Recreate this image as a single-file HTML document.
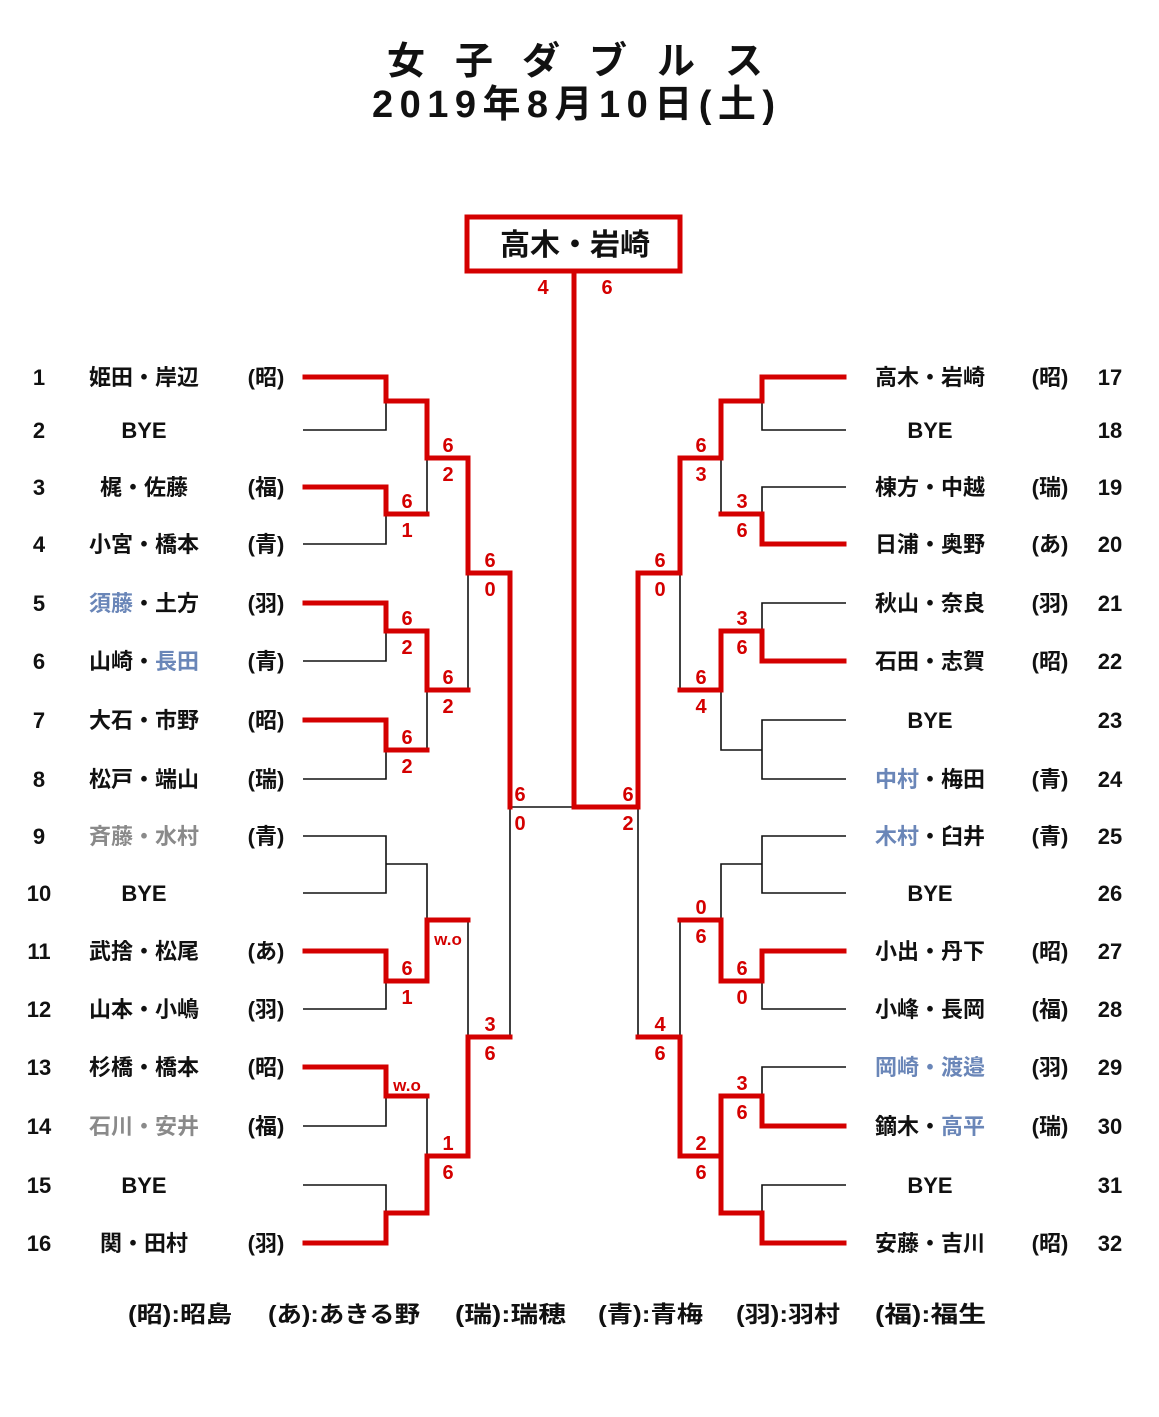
<!DOCTYPE html>
<html><head><meta charset="utf-8"><style>
html,body{margin:0;padding:0;background:#fff;}
svg{display:block;}
text{font-family:"Liberation Sans","Noto Sans CJK JP",sans-serif;font-weight:bold;}
.n{font-size:22px;fill:#111;}
.s{font-size:20px;fill:#d40000;text-anchor:middle;}
.k{stroke:#111;stroke-width:1.6;fill:none;}
.r{stroke:#d40000;stroke-width:5;fill:none;stroke-linejoin:miter;stroke-linecap:square;}
.b{fill:#6a86b8;}
.g{fill:#8a8a8a;}
.t{font-size:38px;fill:#111;text-anchor:middle;}
</style></head><body>
<svg width="1159" height="1417" viewBox="0 0 1159 1417" xmlns="http://www.w3.org/2000/svg">
<text class="t" x="406" y="74">女</text><text class="t" x="474" y="74">子</text><text class="t" x="541" y="74">ダ</text>
<text class="t" x="608" y="74">ブ</text><text class="t" x="676" y="74">ル</text><text class="t" x="744" y="74">ス</text>
<text x="372" y="117" font-size="38" fill="#111" textLength="403" lengthAdjust="spacing">2019年8月10日(土)</text>

<rect x="467" y="217" width="213" height="54" fill="none" stroke="#d40000" stroke-width="5"/>
<text x="575" y="255" font-size="30" text-anchor="middle" fill="#111">高木・岩崎</text>
<text class="s" x="543" y="294">4</text><text class="s" x="607" y="294">6</text>

<g class="k">
<path d="M303 430H386V401"/><path d="M303 544H386V514"/><path d="M427 458V514"/>
<path d="M303 661H386V631"/><path d="M303 779H386V750"/><path d="M427 690V750"/>
<path d="M468 573V690"/><path d="M510 807H574"/><path d="M510 807V1037"/>
<path d="M303 836H386V893H303"/><path d="M386 864H427V920"/>
<path d="M303 1009H386V981"/><path d="M468 920V1037"/>
<path d="M303 1126H386V1096"/><path d="M427 1096V1156"/>
<path d="M303 1185H386V1213"/>
</g>
<g class="r">
<path d="M305 377H386V401H427V458H468V573H510V807"/>
<path d="M305 487H386V514H427"/>
<path d="M305 603H386V631H427V690H468"/>
<path d="M305 720H386V750H427"/>
<path d="M427 920H468"/>
<path d="M305 951H386V981H427V920"/>
<path d="M510 1037H468V1156H427V1213H386V1243H305"/>
<path d="M305 1067H386V1096H427"/>
<path d="M427 1156H468"/>
</g>
<g class="k">
<path d="M846 430H762V401"/><path d="M846 487H762V514"/><path d="M721 458V514"/>
<path d="M846 603H762V631"/><path d="M680 573V690"/>
<path d="M846 720H762V779H846"/><path d="M762 750H721V690"/>
<path d="M638 807V1037"/>
<path d="M846 836H762V893H846"/><path d="M762 864H721V920"/>
<path d="M846 1009H762V981"/><path d="M680 920V1037"/>
<path d="M846 1067H762V1096"/><path d="M846 1185H762V1213"/>
</g>
<g class="r">
<path d="M574 272V807H638V573H680V458H721V401H762V377H844"/>
<path d="M844 544H762V514H721"/>
<path d="M844 661H762V631H721V690H680"/>
<path d="M844 951H762V981H721V920H680"/>
<path d="M638 1037H680V1156H721V1213H762V1243H844"/>
<path d="M844 1126H762V1096H721V1156"/>
</g>

<g>
<text class="s" x="448" y="452">6</text><text class="s" x="448" y="481">2</text>
<text class="s" x="407" y="508">6</text><text class="s" x="407" y="537">1</text>
<text class="s" x="490" y="567">6</text><text class="s" x="490" y="596">0</text>
<text class="s" x="407" y="625">6</text><text class="s" x="407" y="654">2</text>
<text class="s" x="448" y="684">6</text><text class="s" x="448" y="713">2</text>
<text class="s" x="407" y="744">6</text><text class="s" x="407" y="773">2</text>
<text class="s" x="520" y="801">6</text><text class="s" x="520" y="830">0</text>
<text class="s" x="448" y="945" style="font-size:17px">w.o</text>
<text class="s" x="407" y="975">6</text><text class="s" x="407" y="1004">1</text>
<text class="s" x="490" y="1031">3</text><text class="s" x="490" y="1060">6</text>
<text class="s" x="407" y="1091" style="font-size:17px">w.o</text>
<text class="s" x="448" y="1150">1</text><text class="s" x="448" y="1179">6</text>
</g>
<g>
<text class="s" x="701" y="452">6</text><text class="s" x="701" y="481">3</text>
<text class="s" x="742" y="508">3</text><text class="s" x="742" y="537">6</text>
<text class="s" x="660" y="567">6</text><text class="s" x="660" y="596">0</text>
<text class="s" x="742" y="625">3</text><text class="s" x="742" y="654">6</text>
<text class="s" x="701" y="684">6</text><text class="s" x="701" y="713">4</text>
<text class="s" x="628" y="801">6</text><text class="s" x="628" y="830">2</text>
<text class="s" x="701" y="914">0</text><text class="s" x="701" y="943">6</text>
<text class="s" x="742" y="975">6</text><text class="s" x="742" y="1004">0</text>
<text class="s" x="660" y="1031">4</text><text class="s" x="660" y="1060">6</text>
<text class="s" x="742" y="1090">3</text><text class="s" x="742" y="1119">6</text>
<text class="s" x="701" y="1150">2</text><text class="s" x="701" y="1179">6</text>
</g>

<g class="n">
<g text-anchor="middle">
<text x="39" y="385">1</text><text x="39" y="438">2</text><text x="39" y="495">3</text><text x="39" y="552">4</text>
<text x="39" y="611">5</text><text x="39" y="669">6</text><text x="39" y="728">7</text><text x="39" y="787">8</text>
<text x="39" y="844">9</text><text x="39" y="901">10</text><text x="39" y="959">11</text><text x="39" y="1017">12</text>
<text x="39" y="1075">13</text><text x="39" y="1134">14</text><text x="39" y="1193">15</text><text x="39" y="1251">16</text>
<text x="144" y="385">姫田・岸辺</text><text x="144" y="438">BYE</text><text x="144" y="495">梶・佐藤</text><text x="144" y="552">小宮・橋本</text>
<text x="144" y="611"><tspan class="b">須藤</tspan>・土方</text><text x="144" y="669">山崎・<tspan class="b">長田</tspan></text>
<text x="144" y="728">大石・市野</text><text x="144" y="787">松戸・端山</text>
<text x="144" y="844" class="g">斉藤・水村</text><text x="144" y="901">BYE</text><text x="144" y="959">武捨・松尾</text><text x="144" y="1017">山本・小嶋</text>
<text x="144" y="1075">杉橋・橋本</text><text x="144" y="1134" class="g">石川・安井</text><text x="144" y="1193">BYE</text><text x="144" y="1251">関・田村</text>
<text x="266" y="385">(昭)</text><text x="266" y="495">(福)</text><text x="266" y="552">(青)</text>
<text x="266" y="611">(羽)</text><text x="266" y="669">(青)</text><text x="266" y="728">(昭)</text><text x="266" y="787">(瑞)</text>
<text x="266" y="844">(青)</text><text x="266" y="959">(あ)</text><text x="266" y="1017">(羽)</text>
<text x="266" y="1075">(昭)</text><text x="266" y="1134">(福)</text><text x="266" y="1251">(羽)</text>
</g>
</g>
<g class="n">
<g text-anchor="middle">
<text x="1110" y="385">17</text><text x="1110" y="438">18</text><text x="1110" y="495">19</text><text x="1110" y="552">20</text>
<text x="1110" y="611">21</text><text x="1110" y="669">22</text><text x="1110" y="728">23</text><text x="1110" y="787">24</text>
<text x="1110" y="844">25</text><text x="1110" y="901">26</text><text x="1110" y="959">27</text><text x="1110" y="1017">28</text>
<text x="1110" y="1075">29</text><text x="1110" y="1134">30</text><text x="1110" y="1193">31</text><text x="1110" y="1251">32</text>
<text x="930" y="385">高木・岩崎</text><text x="930" y="438">BYE</text><text x="930" y="495">棟方・中越</text><text x="930" y="552">日浦・奥野</text>
<text x="930" y="611">秋山・奈良</text><text x="930" y="669">石田・志賀</text><text x="930" y="728">BYE</text><text x="930" y="787"><tspan class="b">中村</tspan>・梅田</text>
<text x="930" y="844"><tspan class="b">木村</tspan>・臼井</text><text x="930" y="901">BYE</text><text x="930" y="959">小出・丹下</text><text x="930" y="1017">小峰・長岡</text>
<text x="930" y="1075" class="b">岡崎・渡邉</text><text x="930" y="1134">鏑木・<tspan class="b">高平</tspan></text><text x="930" y="1193">BYE</text><text x="930" y="1251">安藤・吉川</text>
<text x="1050" y="385">(昭)</text><text x="1050" y="495">(瑞)</text><text x="1050" y="552">(あ)</text>
<text x="1050" y="611">(羽)</text><text x="1050" y="669">(昭)</text><text x="1050" y="787">(青)</text>
<text x="1050" y="844">(青)</text><text x="1050" y="959">(昭)</text><text x="1050" y="1017">(福)</text>
<text x="1050" y="1075">(羽)</text><text x="1050" y="1134">(瑞)</text><text x="1050" y="1251">(昭)</text>
</g>
</g>
<g class="n" style="font-size:23px">
<text x="128" y="1322" textLength="104" lengthAdjust="spacingAndGlyphs">(昭):昭島</text>
<text x="268" y="1322" textLength="152" lengthAdjust="spacingAndGlyphs">(あ):あきる野</text>
<text x="455" y="1322" textLength="111" lengthAdjust="spacingAndGlyphs">(瑞):瑞穂</text>
<text x="598" y="1322" textLength="105" lengthAdjust="spacingAndGlyphs">(青):青梅</text>
<text x="736" y="1322" textLength="104" lengthAdjust="spacingAndGlyphs">(羽):羽村</text>
<text x="875" y="1322" textLength="111" lengthAdjust="spacingAndGlyphs">(福):福生</text>
</g>
</svg>
</body></html>
